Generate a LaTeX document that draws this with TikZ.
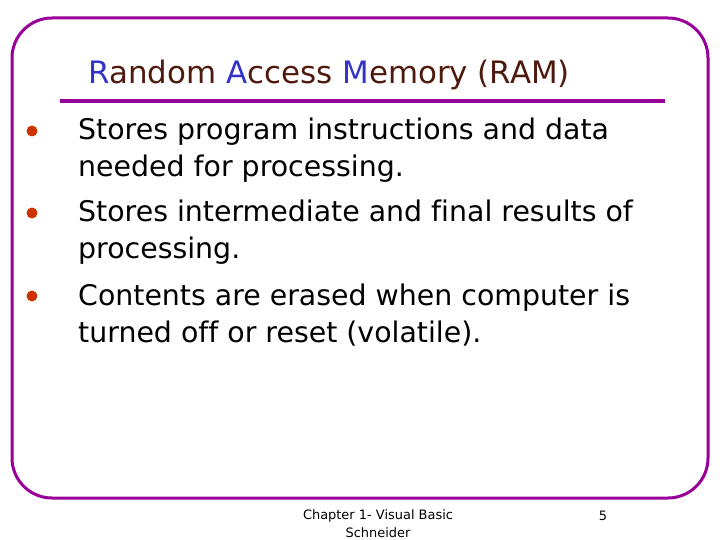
\documentclass[tikz,border=0pt]{standalone}
\usepackage{fontspec}
\setmainfont[Ligatures=NoCommon]{DejaVu Sans}
\definecolor{ttblue}{HTML}{3333CC}
\definecolor{ttbrown}{HTML}{4D1A0D}
\definecolor{bul}{HTML}{CC3300}
\definecolor{frame}{HTML}{990099}
\begin{document}
\begin{tikzpicture}[x=1bp,y=-1bp,
  body/.style={anchor=base west,inner sep=0pt,font=\fontsize{28.5}{30}\selectfont},
  dotb/.style={circle,fill=bul,inner sep=0pt,minimum size=11bp},
  foot/.style={inner sep=0pt,font=\fontsize{13}{14}\selectfont}]
\useasboundingbox (0,0) rectangle (720,540);
\draw[frame,line width=3bp,rounded corners=40bp] (12,18) rectangle (708,498);
\node[inner sep=0pt,anchor=base,font=\fontsize{31}{34}\selectfont] (title) at (329,84)
  {\textcolor{ttblue}{R}\textcolor{ttbrown}{andom} \textcolor{ttblue}{A}\textcolor{ttbrown}{ccess} \textcolor{ttblue}{M}\textcolor{ttbrown}{emory (RAM)}};
\draw[frame,line width=4bp] (60,101) -- (665,101);
\node[dotb] (b1) at (32,131) {};
\node[dotb] (b2) at (32,213) {};
\node[dotb] (b3) at (32,296) {};
\node[body] (t1) at (78,140) {Stores program instructions and data};
\node[body] (t1b) at (78,177) {needed for processing.};
\node[body] (t2) at (78,222) {Stores intermediate and final results of};
\node[body] (t2b) at (78,259) {processing.};
\node[body] (t3) at (78,305) {Contents are erased when computer is};
\node[body] (t3b) at (78,342) {turned off or reset (volatile).};
\node[foot] (f1) at (378,516) {Chapter 1- Visual Basic};
\node[foot] (f2) at (378,533) {Schneider};
\node[foot] (pg) at (603,516) {5};
\end{tikzpicture}
\end{document}
